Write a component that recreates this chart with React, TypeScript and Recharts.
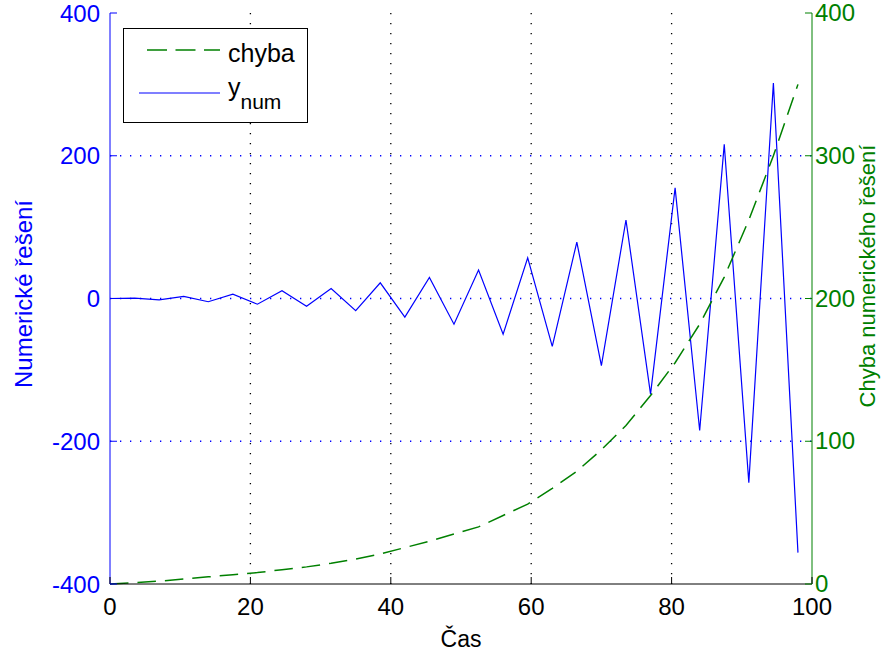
import { ComposedChart, Line, XAxis, YAxis, CartesianGrid, Legend } from 'recharts'

// časové kroky (h = 3.5)
const casKroky = [
  0, 3.5, 7, 10.5, 14, 17.5, 21, 24.5, 28, 31.5, 35, 38.5, 42, 45.5, 49,
  52.5, 56, 59.5, 63, 66.5, 70, 73.5, 77, 80.5, 84, 87.5, 91, 94.5, 98,
]

// numerické řešení (levá osa)
const yNum = [
  0, 0.5, -2, 3, -4.5, 6, -8, 11, -11, 14, -17, 22, -26, 29.5, -36, 40,
  -50, 57, -67, 79, -94, 110, -134, 155, -185, 216, -258, 302, -356,
]

// chyba numerického řešení (pravá osa)
const chyba = [
  0, 1, 2, 3.5, 5, 6.5, 8, 10, 12, 14.5, 17.5, 21, 25.5, 30, 35, 40,
  48, 56, 67, 79, 94, 111, 132, 155, 182, 215, 255, 300, 350,
]

const xTicks = [0, 20, 40, 60, 80, 100]
const leftTicks = [-400, -200, 0, 200, 400]
const rightTicks = [0, 100, 200, 300, 400]

const MODRA = '#0000ff'
const ZELENA = '#008000'
const FONT = '"Liberation Sans", Arial, sans-serif'

const data = casKroky.map((t, i) => ({ cas: t, yNum: yNum[i], chyba: chyba[i] }))

const LeftTick = ({ x, y, payload }: any) => (
  <g>
    <line x1={x + 10} x2={x + 17} y1={y} y2={y} stroke={MODRA} />
    <text x={x} y={y} dy="0.36em" textAnchor="end" fill={MODRA} fontSize={24} fontFamily={FONT}>
      {payload.value}
    </text>
  </g>
)

const RightTick = ({ x, y, payload }: any) => (
  <g>
    <line x1={x - 3} x2={x - 10} y1={y} y2={y} stroke={ZELENA} />
    <text x={x} y={y} dy="0.34em" textAnchor="start" fill={ZELENA} fontSize={24} fontFamily={FONT}>
      {payload.value}
    </text>
  </g>
)

const BottomTick = ({ x, y, payload }: any) => (
  <g>
    <line x1={x} x2={x} y1={y - 14} y2={y - 21} stroke="#000" />
    <text x={x} y={y} dy="0.71em" textAnchor="middle" fill="#000" fontSize={24} fontFamily={FONT}>
      {payload.value}
    </text>
  </g>
)

const TopTick = ({ x, y }: any) => <line x1={x} x2={x} y1={y} y2={y + 7} stroke="#000" />

const Legenda = () => (
  <svg width={185} height={95} style={{ display: 'block' }}>
    <rect x={0.5} y={0.5} width={184} height={94} fill="#fff" stroke="#000" />
    <line x1={24} x2={97} y1={22} y2={22} stroke={ZELENA} strokeWidth={1.5} strokeDasharray="20 8.5" />
    <text x={105} y={34} fontSize={25} fontFamily={FONT} fill="#000">chyba</text>
    <line x1={16} x2={97} y1={65} y2={65} stroke={MODRA} strokeWidth={1.2} />
    <text x={105} y={68} fontSize={25} fontFamily={FONT} fill="#000">
      y<tspan fontSize={21} dy={13}>num</tspan>
    </text>
  </svg>
)

export default function App() {
  return (
    <div style={{ position: 'absolute', left: 0, top: 0, background: '#fff' }}>
      <ComposedChart width={893} height={656} data={data} margin={{ top: 13, right: 0, bottom: 0, left: 0 }}>
        <CartesianGrid
          xAxisId="dole"
          yAxisId="vlevo"
          horizontal={false}
          verticalValues={[20, 40, 60, 80]}
          stroke="#000"
          strokeWidth={1.3}
          strokeDasharray="1.3 8.7"
        />
        <CartesianGrid
          xAxisId="dole"
          yAxisId="vlevo"
          vertical={false}
          horizontalValues={[-200, 0, 200]}
          stroke={MODRA}
          strokeWidth={1.3}
          strokeDasharray="1.3 8.7"
        />
        <XAxis
          xAxisId="dole"
          dataKey="cas"
          type="number"
          domain={[0, 100]}
          ticks={xTicks}
          interval={0}
          height={72}
          tickSize={0}
          tickMargin={14}
          tick={BottomTick}
          axisLine={{ stroke: '#000' }}
          label={{ value: 'Čas', position: 'insideBottom', offset: 9, fontSize: 23, fontFamily: FONT, fill: '#000' }}
        />
        <XAxis
          xAxisId="nahore"
          dataKey="cas"
          type="number"
          orientation="top"
          domain={[0, 100]}
          ticks={xTicks.slice(1, 5)}
          interval={0}
          height={0}
          tickSize={0}
          tickMargin={0}
          tick={TopTick}
          axisLine={{ stroke: '#000' }}
        />
        <YAxis
          yAxisId="vlevo"
          orientation="left"
          domain={[-400, 400]}
          ticks={leftTicks}
          interval={0}
          width={110}
          tickSize={0}
          tickMargin={10}
          tick={LeftTick}
          axisLine={{ stroke: MODRA }}
          label={() => (
            <text
              x={32}
              y={294}
              transform="rotate(-90 32 294)"
              textAnchor="middle"
              fill={MODRA}
              fontSize={24}
              fontFamily={FONT}
            >
              Numerické řešení
            </text>
          )}
        />
        <YAxis
          yAxisId="vpravo"
          orientation="right"
          domain={[0, 400]}
          ticks={rightTicks}
          interval={0}
          width={81}
          tickSize={0}
          tickMargin={3}
          tick={RightTick}
          axisLine={{ stroke: ZELENA }}
          label={() => (
            <text
              x={875}
              y={276}
              transform="rotate(-90 875 276)"
              textAnchor="middle"
              fill={ZELENA}
              fontSize={22}
              fontFamily={FONT}
            >
              Chyba numerického řešení
            </text>
          )}
        />
        <Legend
          layout="vertical"
          align="center"
          verticalAlign="middle"
          wrapperStyle={{ left: 123, top: 28, width: 185, height: 95 }}
          content={() => <Legenda />}
        />
        <Line
          xAxisId="dole"
          yAxisId="vlevo"
          type="linear"
          dataKey="yNum"
          stroke={MODRA}
          strokeWidth={1.2}
          dot={false}
          isAnimationActive={false}
        />
        <Line
          xAxisId="dole"
          yAxisId="vpravo"
          type="linear"
          dataKey="chyba"
          stroke={ZELENA}
          strokeWidth={1.5}
          strokeDasharray="18.5 9"
          dot={false}
          isAnimationActive={false}
        />
      </ComposedChart>
    </div>
  )
}
